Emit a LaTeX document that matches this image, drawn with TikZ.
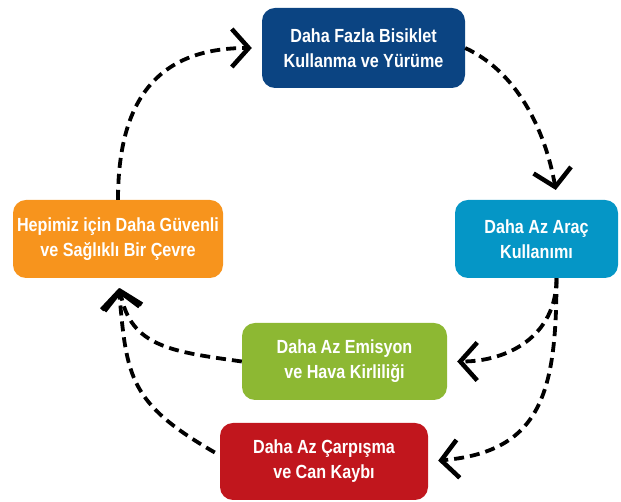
\documentclass[tikz,border=0pt]{standalone}
\usepackage{fontspec}
\setmainfont{Liberation Sans}[FakeStretch=0.85]
\usetikzlibrary{arrows.meta,calc}
\definecolor{cblue}{HTML}{0B4482}
\definecolor{ccyan}{HTML}{0596C6}
\definecolor{corange}{HTML}{F7941D}
\definecolor{cgreen}{HTML}{8DB833}
\definecolor{cred}{HTML}{C1161D}
\begin{document}
\begin{tikzpicture}[x=1pt,y=1pt,
  box/.style={rounded corners=13pt, inner sep=0pt, align=center, text=white,
    font=\bfseries\fontsize{19}{25}\selectfont},
  conn/.style={line width=3.8pt, dash pattern=on 10pt off 6pt,
    -{Straight Barb[length=17pt,width=38pt,line width=4.5pt]}, shorten >=10pt}]
\path[use as bounding box] (0,0) rectangle (621,502);
% nodes (y measured upward)
\node[box, fill=cblue, minimum width=203pt, minimum height=80pt] (bl) at (363.5,454) {Daha Fazla Bisiklet\\Kullanma ve Yürüme};
\node[box, fill=ccyan, minimum width=163pt, minimum height=78pt] (cy) at (536.5,263) {Daha Az Araç\\Kullanımı};
\node[box, fill=corange, minimum width=210pt, minimum height=78pt] (or) at (118,263) {Hepimiz için Daha Güvenli\\ve Sağlıklı Bir Çevre};
\node[box, fill=cgreen, minimum width=205pt, minimum height=77pt] (gr) at (344.5,140.5) {Daha Az Emisyon\\ve Hava Kirliliği};
\node[box, fill=cred, minimum width=208pt, minimum height=77pt] (rd) at (324,40.5) {Daha Az Çarpışma\\ve Can Kaybı};
% connectors
\draw[conn] (or.north) to[out=90,in=180,looseness=1.25] (bl.west);
\draw[conn] (bl.east) to[out=-25,in=100,looseness=0.9] ($(cy.north)+(21,0)$);
\coordinate (cyb) at ($(cy.south)+(20,0)$);
\draw[conn] (cyb) to[out=-90,in=0,looseness=1.1] (gr.east);
\draw[conn] (cyb) to[out=-90,in=5,looseness=1.3] (rd.east);
\draw[conn] (gr.west) to[out=172,in=-80,looseness=1.2] (or.south);
\coordinate (rdw) at ($(rd.west)+(-5,9)$);
\draw[conn] (rdw) to[out=150,in=-85,looseness=1.27] (or.south);
\end{tikzpicture}
\end{document}
